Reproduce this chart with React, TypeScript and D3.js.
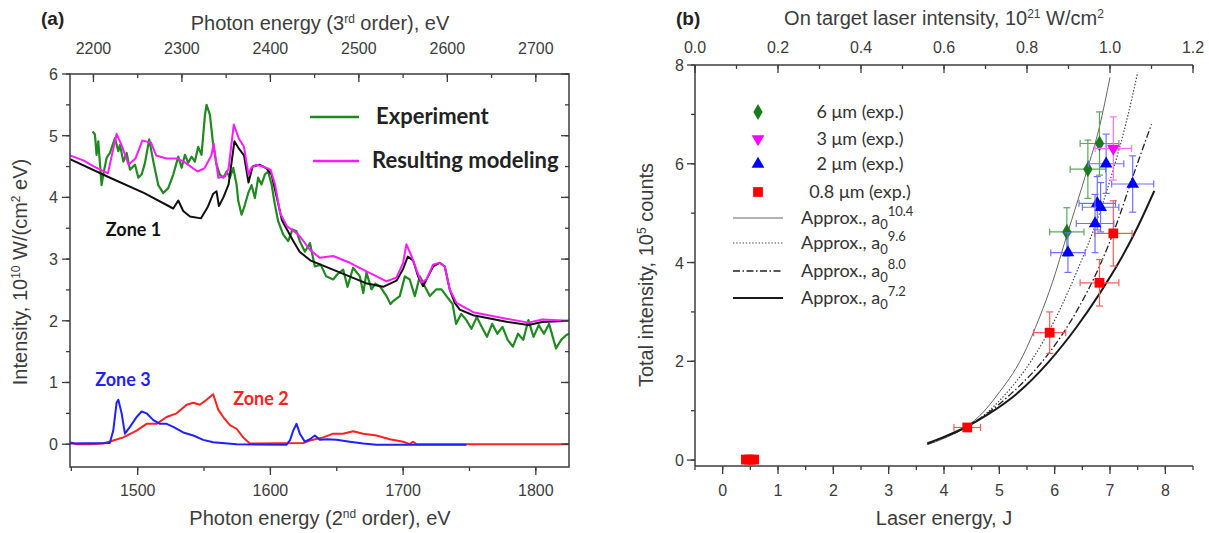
import React from "react";
import * as d3 from "d3";

const W = 1209;
const H = 533;

// ---- panel (a): spectra, [photon energy (2nd order) eV, intensity 1e10 W/(cm2 eV)]
const experiment: [number, number][] = [
  [1466, 5.07], [1467.8, 5.02], [1469, 4.69], [1470.3, 4.91], [1472.8, 4.2], [1474.1, 4.37],
  [1476.6, 4.64], [1479.1, 4.72], [1482.9, 4.96], [1485.4, 4.75], [1486.7, 4.85], [1489.2, 4.58],
  [1491.7, 4.72], [1494.2, 4.45], [1498, 4.53], [1500.5, 4.32], [1503, 4.37], [1505.5, 4.56],
  [1508.7, 4.94], [1511.8, 4.58], [1515.5, 4.2], [1519.3, 4.07], [1523, 4.15], [1526.8, 4.37],
  [1530.6, 4.66], [1533.1, 4.48], [1535.6, 4.69], [1538.1, 4.56], [1540.6, 4.66], [1543.1, 4.58],
  [1545.6, 4.82], [1548.1, 4.69], [1550.7, 5.34], [1551.9, 5.5], [1554.4, 5.34], [1556.9, 4.85],
  [1559.4, 4.53], [1561.9, 4.37], [1564.5, 4.32], [1567, 4.42], [1569.5, 4.32], [1572, 4.48],
  [1574.5, 4.21], [1575.8, 3.94], [1578.3, 3.72], [1580.8, 3.88], [1583.3, 4.07], [1585.8, 4.2],
  [1588.3, 3.99], [1590.8, 4.32], [1593.3, 4.21], [1595.8, 4.37], [1598.3, 4.42], [1600.9, 4.21],
  [1603.4, 3.88], [1605.9, 3.61], [1609.6, 3.4], [1613.4, 3.29], [1616.7, 3.48], [1619.7, 3.45],
  [1622.2, 3.29], [1626, 3.12], [1629.8, 3.26], [1633.5, 2.88], [1637.9, 2.91], [1642, 2.72],
  [1647.3, 2.67], [1650.3, 2.75], [1654.8, 2.83], [1658.1, 2.55], [1662.3, 2.86], [1667.4, 2.72],
  [1670, 2.45], [1672.4, 2.78], [1676.2, 2.51], [1679, 2.6], [1682.4, 2.56], [1687.5, 2.4],
  [1690.5, 2.27], [1692.5, 2.32], [1697.5, 2.4], [1701.3, 2.72], [1705, 2.67], [1708.8, 2.4],
  [1712.6, 2.72], [1716.3, 2.56], [1720.1, 2.4], [1725.1, 2.51], [1728.9, 2.51], [1732.7, 2.4],
  [1737.3, 2.27], [1739.9, 1.95], [1743.8, 2.11], [1747.7, 2.01], [1751.5, 1.87], [1755.5, 2.06],
  [1759.3, 1.9], [1763.2, 1.74], [1767.1, 1.95], [1771, 1.79], [1774.9, 1.9], [1778.8, 1.69],
  [1782.7, 1.58], [1786.6, 1.79], [1790.5, 1.69], [1794.4, 2.01], [1798.3, 1.74], [1802.2, 1.93],
  [1806.1, 1.79], [1810, 1.95], [1815.2, 1.55], [1819.1, 1.69], [1823, 1.77], [1825, 1.79],
];

const modeling: [number, number][] = [
  [1449, 4.68], [1459, 4.6], [1467.2, 4.5], [1477.6, 4.39], [1484.1, 5.03], [1488, 4.84],
  [1493.1, 4.53], [1498.3, 4.63], [1503.5, 4.92], [1510, 4.89], [1513.9, 4.68], [1521.7, 4.63],
  [1529.5, 4.63], [1534.7, 4.58], [1545.1, 4.42], [1550.3, 4.47], [1555.5, 4.68], [1557.3, 4.87],
  [1560.7, 4.32], [1565.9, 4.34], [1568.5, 4.47], [1572.4, 5.18], [1576.3, 4.95], [1580.1, 4.82],
  [1583.5, 4.37], [1585.3, 4.47], [1589.2, 4.53], [1594.4, 4.5], [1600.1, 4.45], [1603.5, 4.21],
  [1607.4, 3.74], [1612.6, 3.53], [1617.8, 3.45], [1622.2, 3.37], [1629.8, 3.15], [1637.3, 3.02],
  [1647.3, 3.05], [1659.9, 2.94], [1672.4, 2.8], [1680, 2.72], [1687.5, 2.64], [1695, 2.7],
  [1700, 2.94], [1702.5, 3.24], [1706.3, 3.05], [1710, 2.83], [1713.8, 2.62], [1717.6, 2.67],
  [1722.6, 2.91], [1727.6, 2.94], [1731.4, 2.88], [1735.1, 2.51], [1740.2, 2.29], [1752.8, 2.14],
  [1778.8, 2.03], [1794.4, 1.97], [1804.8, 2.02], [1825, 2.0],
];

const zone1: [number, number][] = [
  [1449, 4.62], [1480, 4.31], [1505, 4.07], [1526.8, 3.82], [1530.6, 3.95], [1534.3, 3.78],
  [1539.4, 3.69], [1547.7, 3.66], [1552.9, 3.85], [1556.9, 4.06], [1559.4, 4.1], [1561.2, 3.86],
  [1564.6, 4.0], [1568.5, 4.21], [1572.9, 4.91], [1576.3, 4.79], [1580.1, 4.68], [1583.5, 4.24],
  [1586.6, 4.5], [1591.8, 4.53], [1597, 4.47], [1600.9, 4.37], [1604.8, 4.0], [1608.7, 3.63],
  [1617, 3.3], [1622, 3.12], [1630, 2.98], [1648, 2.82], [1672, 2.61], [1685, 2.55],
  [1695, 2.65], [1700, 2.84], [1703.5, 3.04], [1707.5, 2.98], [1711.3, 2.72], [1715.1, 2.56],
  [1718.8, 2.72], [1722.6, 2.88], [1727.6, 2.94], [1731.4, 2.88], [1735.1, 2.51], [1738.9, 2.29],
  [1742.7, 2.18], [1752.8, 2.09], [1778.8, 1.98], [1794.4, 1.93], [1804.8, 1.98], [1825, 2.0],
];

const zone2: [number, number][] = [
  [1449, 0.03], [1454, 0.0], [1464, 0.0], [1474, 0.01], [1481.6, 0.06], [1489.2, 0.11],
  [1499.2, 0.22], [1506.7, 0.33], [1514.3, 0.33], [1521.8, 0.44], [1529.3, 0.5], [1536.9, 0.64],
  [1541.9, 0.67], [1546.9, 0.64], [1551.9, 0.72], [1556.9, 0.81], [1560.7, 0.56], [1564.5, 0.44],
  [1569.5, 0.31], [1574.5, 0.25], [1579.5, 0.11], [1584.5, 0.01], [1624.7, 0.02], [1629.7, 0.06],
  [1639.8, 0.11], [1647.3, 0.17], [1654.8, 0.17], [1662.4, 0.21], [1669.9, 0.17], [1679.9, 0.14],
  [1690, 0.08], [1700, 0.04], [1705, 0.0], [1707.5, 0.04], [1710, 0.0], [1825, 0.0],
];

const zone3: [number, number][] = [
  [1449, 0.01], [1479, 0.02], [1481.6, 0.22], [1484.1, 0.67], [1485.4, 0.72], [1487.9, 0.5],
  [1490.4, 0.17], [1494.2, 0.28], [1499.2, 0.44], [1503, 0.53], [1506.7, 0.5], [1511.8, 0.39],
  [1516.8, 0.33], [1521.8, 0.33], [1526.8, 0.28], [1534.3, 0.19], [1541.9, 0.14], [1549.4, 0.07],
  [1556.9, 0.03], [1574.5, 0.0], [1612, -0.01], [1614.7, 0.06], [1617.2, 0.22], [1619.7, 0.33],
  [1622.2, 0.17], [1626, 0.04], [1629.7, 0.08], [1633.5, 0.14], [1637.3, 0.07], [1642.3, 0.08],
  [1649.8, 0.07], [1659.8, 0.04], [1669.9, 0.01], [1679.9, -0.01], [1747.7, -0.01],
];

const aBottomTicks = [1500, 1600, 1700, 1800];
const aTopTicks = [2200, 2300, 2400, 2500, 2600, 2700];
const aLeftTicks = [0, 1, 2, 3, 4, 5, 6];

// ---- panel (b): [laser energy J, total intensity 1e5 counts, x error, y error]
const exp6um = [
  [6.81, 6.41, 0.35, 0.64], [6.6, 5.89, 0.32, 0.59], [6.22, 4.62, 0.31, 0.49],
];
const exp3um = [[7.06, 6.31, 0.33, 0.64]];
const exp2um = [
  [6.93, 6.0, 0.32, 0.6], [7.41, 5.59, 0.38, 0.57], [6.77, 5.2, 0.33, 0.54],
  [6.83, 5.12, 0.33, 0.5], [6.73, 4.79, 0.34, 0.59], [6.24, 4.2, 0.31, 0.4],
];
const exp08um = [
  [7.06, 4.59, 0.34, 0.66], [6.81, 3.59, 0.35, 0.47], [5.91, 2.58, 0.29, 0.42],
  [4.42, 0.66, 0.24, 0.08], [0.42, 0.01, 0, 0], [0.47, 0.01, 0, 0], [0.52, 0.01, 0, 0],
  [0.57, 0.01, 0, 0],
];

const approx104: [number, number][] = [
  [3.7, 0.31], [4.0, 0.44], [4.4, 0.67], [4.7, 0.96], [4.95, 1.3], [5.42, 2.1], [5.73, 2.9],
  [5.96, 3.6], [6.22, 4.55], [6.58, 5.85], [6.81, 6.75], [7.0, 7.75],
];
const approx96: [number, number][] = [
  [3.7, 0.32], [4.0, 0.45], [4.4, 0.67], [4.8, 0.98], [5.0, 1.2], [5.6, 2.05], [6.03, 2.9],
  [6.45, 3.95], [6.7, 4.65], [7.05, 5.85], [7.3, 6.87], [7.5, 7.85],
];
const approx80: [number, number][] = [
  [3.7, 0.33], [4.0, 0.46], [4.4, 0.67], [4.8, 0.96], [5.2, 1.33], [5.9, 2.17], [6.4, 3.02],
  [6.8, 3.9], [7.1, 4.72], [7.4, 5.7], [7.75, 6.8],
];
const approx72: [number, number][] = [
  [3.7, 0.34], [4.0, 0.47], [4.4, 0.67], [4.8, 0.93], [5.3, 1.33], [5.9, 2.0], [6.4, 2.7],
  [6.8, 3.35], [7.2, 4.08], [7.5, 4.72], [7.8, 5.45],
];

const bBottomTicks = [0, 1, 2, 3, 4, 5, 6, 7, 8];
const bTopTicks = [0, 0.2, 0.4, 0.6, 0.8, 1.0, 1.2];
const bLeftTicks = [0, 2, 4, 6, 8];

const expLegend = ["6 μm (exp.)", "3 μm (exp.)", "2 μm (exp.)", "0.8 μm (exp.)"];
const approxPowers = ["10.4", "9.6", "8.0", "7.2"];

const axisFont = "'Liberation Sans', Arial, sans-serif";
const legendFont = "Lato, 'Open Sans', sans-serif";
const ink = "#3c3c3c";

// scales
const xa = d3.scaleLinear().domain([1449, 1825]).range([70, 569]);
const xaTop = d3.scaleLinear().domain([1449 * 1.5, 1825 * 1.5]).range([70, 569]);
const ya = d3.scaleLinear().domain([-0.37, 6]).range([467, 74]);

const xb = d3.scaleLinear().domain([-0.5, 8.5]).range([695, 1193]);
const xbTop = d3.scaleLinear().domain([0, 1.2]).range([695, 1193]);
const yb = d3.scaleLinear().domain([-0.12, 8]).range([466, 65]);

const lineA = d3
  .line<[number, number]>()
  .x((d) => xa(d[0]))
  .y((d) => ya(d[1]));

const lineB = d3
  .line<[number, number]>()
  .x((d) => xb(d[0]))
  .y((d) => yb(d[1]))
  .curve(d3.curveMonotoneX);

function inDomain(vals: number[], s: d3.ScaleLinear<number, number>) {
  const [a, b] = s.domain();
  return vals.filter((v) => v >= Math.min(a, b) - 1e-9 && v <= Math.max(a, b) + 1e-9);
}

// horizontal axis ticks: len > 0 draws downward
function HTicks({ scale, vals, y, len }: { scale: any; vals: number[]; y: number; len: number }) {
  return (
    <g stroke={ink} strokeWidth={1.3}>
      {inDomain(vals, scale).map((v) => (
        <line key={v} x1={scale(v)} x2={scale(v)} y1={y} y2={y + len} />
      ))}
    </g>
  );
}
function VTicks({ scale, vals, x, len }: { scale: any; vals: number[]; x: number; len: number }) {
  return (
    <g stroke={ink} strokeWidth={1.3}>
      {inDomain(vals, scale).map((v) => (
        <line key={v} y1={scale(v)} y2={scale(v)} x1={x} x2={x + len} />
      ))}
    </g>
  );
}

const markerPath = {
  diamond: d3.symbol(d3.symbolDiamond, 75)() as string,
  triangle: d3.symbol(d3.symbolTriangle, 70)() as string,
  square: d3.symbol(d3.symbolSquare, 95)() as string,
};

function Points({
  data, fill, bar, shape, flip = false,
}: { data: number[][]; fill: string; bar: string; shape: keyof typeof markerPath; flip?: boolean }) {
  const cap = 3.5;
  return (
    <g>
      {data.map((d, i) => {
        const cx = xb(d[0]);
        const cy = yb(d[1]);
        const x0 = xb(d[0] - d[2]);
        const x1 = xb(d[0] + d[2]);
        const y0 = yb(d[1] - d[3]);
        const y1 = yb(d[1] + d[3]);
        return (
          <g key={i}>
            {d[2] > 0 && (
              <g stroke={bar} strokeWidth={1.2}>
                <line x1={x0} x2={x1} y1={cy} y2={cy} />
                <line x1={cx} x2={cx} y1={y0} y2={y1} />
                <line x1={x0} x2={x0} y1={cy - cap} y2={cy + cap} />
                <line x1={x1} x2={x1} y1={cy - cap} y2={cy + cap} />
                <line x1={cx - cap} x2={cx + cap} y1={y0} y2={y0} />
                <line x1={cx - cap} x2={cx + cap} y1={y1} y2={y1} />
              </g>
            )}
            <path
              d={markerPath[shape]}
              transform={`translate(${cx},${cy})${flip ? " rotate(180)" : ""}`}
              fill={fill}
            />
          </g>
        );
      })}
    </g>
  );
}

// text pieces: [text, isSuperscript]
function Rich({ parts, up = 7, size = 12 }: { parts: [string, boolean][]; up?: number; size?: number }) {
  let shift = 0;
  return (
    <>
      {parts.map(([t, sup], i) => {
        const target = sup ? -up : 0;
        const dy = target - shift;
        shift = target;
        return (
          <tspan key={i} dy={dy} fontSize={sup ? size : undefined}>
            {t}
          </tspan>
        );
      })}
    </>
  );
}

export default function App() {
  const aMinorX = d3.range(1450, 1826, 50);
  const aMinorTop = d3.range(2150, 2751, 50);
  const aMinorY = d3.range(0, 6.01, 0.5);
  const bMinorX = d3.range(-0.5, 8.51, 0.5);
  const bMinorTop = d3.range(0, 1.201, 0.1);
  const bMinorY = d3.range(0, 8.01, 1);

  const green = "#1f8a1f";
  const magenta = "#ff1aff";
  const legendRowsB = [112, 139, 164, 192];
  const approxRowsB = [218, 243, 271, 298];
  const approxStyles = [
    { w: 1, dash: "none", c: "#666" },
    { w: 1.2, dash: "1.4 1.8", c: "#444" },
    { w: 1.3, dash: "7 2.5 1.5 2.5", c: "#222" },
    { w: 2, dash: "none", c: "#1a1a1a" },
  ];
  const approxSeries = [approx104, approx96, approx80, approx72];

  return (
    <svg
      width={W}
      height={H}
      style={{ position: "absolute", left: 0, top: 0, background: "#fff" }}
      fontFamily={axisFont}
    >
      <defs>
        <clipPath id="clipA">
          <rect x={70} y={74} width={499} height={393} />
        </clipPath>
      </defs>

      {/* ================= panel (a) ================= */}
      <text x={41} y={25} fontSize={19} fontWeight="bold" fill="#222">(a)</text>
      <text x={320} y={30} fontSize={20} textAnchor="middle" fill={ink}>
        <Rich parts={[["Photon energy (3", false], ["rd", true], [" order), eV", false]]} />
      </text>
      <text x={320} y={525} fontSize={20} textAnchor="middle" fill={ink}>
        <Rich parts={[["Photon energy (2", false], ["nd", true], [" order), eV", false]]} />
      </text>
      <text transform="translate(27,272) rotate(-90)" fontSize={20} textAnchor="middle" fill={ink}>
        <Rich
          parts={[["Intensity, 10", false], ["10", true], [" W/(cm", false], ["2", true], [" eV)", false]]}
        />
      </text>

      <g clipPath="url(#clipA)" fill="none" strokeLinejoin="round">
        <path d={lineA(zone2) as string} stroke="#ff2020" strokeWidth={2} />
        <path d={lineA(zone3) as string} stroke="#1f1fff" strokeWidth={2} />
        <path d={lineA(experiment) as string} stroke={green} strokeWidth={2.2} />
        <path d={lineA(zone1) as string} stroke="#111" strokeWidth={2} />
        <path d={lineA(modeling) as string} stroke={magenta} strokeWidth={2} />
      </g>

      {/* frame and ticks (a) */}
      <rect x={70} y={74} width={499} height={393} fill="none" stroke={ink} strokeWidth={1.5} />
      <HTicks scale={xa} vals={aMinorX} y={467} len={4} />
      <HTicks scale={xa} vals={aBottomTicks} y={467} len={8} />
      <HTicks scale={xaTop} vals={aMinorTop} y={74} len={4} />
      <HTicks scale={xaTop} vals={aTopTicks} y={74} len={8} />
      <VTicks scale={ya} vals={aMinorY} x={70} len={-4} />
      <VTicks scale={ya} vals={aLeftTicks} x={70} len={-8} />
      <VTicks scale={ya} vals={aMinorY} x={569} len={-4} />
      <VTicks scale={ya} vals={aLeftTicks} x={569} len={-8} />

      <g fontSize={16} fill={ink}>
        {aBottomTicks.map((v) => (
          <text key={v} x={xa(v)} y={496} textAnchor="middle">{v}</text>
        ))}
        {aTopTicks.map((v) => (
          <text key={v} x={xaTop(v)} y={54} textAnchor="middle">{v}</text>
        ))}
        {aLeftTicks.map((v) => (
          <text key={v} x={58} y={ya(v) + 6} textAnchor="end">{v}</text>
        ))}
      </g>

      {/* legend (a) */}
      <g fontFamily={legendFont} fontWeight="bold" fontSize={22} fill="#222">
        <line x1={310} x2={359} y1={117} y2={117} stroke={green} strokeWidth={2.4} />
        <text x={376} y={124}>Experiment</text>
        <line x1={313} x2={359} y1={161} y2={161} stroke={magenta} strokeWidth={2.4} />
        <text x={372} y={168}>Resulting modeling</text>
      </g>
      <g fontFamily={legendFont} fontWeight="bold" fontSize={18}>
        <text x={xa(1476)} y={ya(3.38)} fill="#111">Zone 1</text>
        <text x={xa(1468)} y={ya(0.95)} fill="#1f1fff">Zone 3</text>
        <text x={xa(1572)} y={ya(0.63)} fill="#ff2020">Zone 2</text>
      </g>

      {/* ================= panel (b) ================= */}
      <text x={676} y={25} fontSize={19} fontWeight="bold" fill="#222">(b)</text>
      <text x={944} y={25} fontSize={20} textAnchor="middle" fill={ink}>
        <Rich
          parts={[["On target laser intensity, 10", false], ["21", true], [" W/cm", false], ["2", true]]}
        />
      </text>
      <text x={944} y={525} fontSize={20} textAnchor="middle" fill={ink}>Laser energy, J</text>
      <text transform="translate(653,275) rotate(-90)" fontSize={20} textAnchor="middle" fill={ink}>
        <Rich parts={[["Total intensity, 10", false], ["5", true], [" counts", false]]} />
      </text>

      <g fill="none">
        {approxSeries.map((s, i) => (
          <path
            key={i}
            d={lineB(s) as string}
            stroke={approxStyles[i].c}
            strokeWidth={approxStyles[i].w}
            strokeDasharray={approxStyles[i].dash}
          />
        ))}
      </g>

      <Points data={exp08um} fill="#ff0000" bar="#ff5a5a" shape="square" />
      <Points data={exp6um} fill="#1a7a1a" bar="#5aa85a" shape="diamond" />
      <Points data={exp2um} fill="#0000ff" bar="#7070ff" shape="triangle" />
      <Points data={exp3um} fill="#ff00ff" bar="#ff70ff" shape="triangle" flip />

      {/* axes (b) */}
      <g stroke={ink} strokeWidth={1.5}>
        <line x1={695} x2={695} y1={65} y2={466} />
        <line x1={695} x2={1193} y1={466} y2={466} />
        <line x1={695} x2={1193} y1={65} y2={65} />
      </g>
      <HTicks scale={xb} vals={bMinorX} y={466} len={4} />
      <HTicks scale={xb} vals={bBottomTicks} y={466} len={8} />
      <HTicks scale={xbTop} vals={bMinorTop} y={65} len={4} />
      <HTicks scale={xbTop} vals={bTopTicks} y={65} len={8} />
      <VTicks scale={yb} vals={bMinorY} x={695} len={-4} />
      <VTicks scale={yb} vals={bLeftTicks} x={695} len={-8} />

      <g fontSize={16} fill={ink}>
        {bBottomTicks.map((v) => (
          <text key={v} x={xb(v)} y={496} textAnchor="middle">{v}</text>
        ))}
        {bTopTicks.map((v) => (
          <text key={v} x={xbTop(v)} y={53} textAnchor="middle">{v.toFixed(1)}</text>
        ))}
        {bLeftTicks.map((v) => (
          <text key={v} x={684} y={yb(v) + 6} textAnchor="end">{v}</text>
        ))}
      </g>

      {/* legend (b) */}
      <g fontFamily={legendFont} fontSize={18} fill="#333">
        <path d={markerPath.diamond} transform={`translate(758,${legendRowsB[0]})`} fill="#1a7a1a" />
        <path d={markerPath.triangle} transform={`translate(758,${legendRowsB[1]}) rotate(180)`} fill="#ff00ff" />
        <path d={markerPath.triangle} transform={`translate(758,${legendRowsB[2]})`} fill="#0000ff" />
        <path d={markerPath.square} transform={`translate(758,${legendRowsB[3]})`} fill="#ff0000" />
        {expLegend.map((t, i) => (
          <text key={t} x={860} y={legendRowsB[i] + 6} textAnchor="middle">{t}</text>
        ))}
        {approxPowers.map((p, i) => (
          <g key={p}>
            <line
              x1={733} x2={783} y1={approxRowsB[i]} y2={approxRowsB[i]}
              stroke={approxStyles[i].c}
              strokeWidth={approxStyles[i].w}
              strokeDasharray={approxStyles[i].dash}
            />
            <text x={801} y={approxRowsB[i] + 6}>
              <tspan>Approx., a</tspan>
              <tspan dy={5} fontSize={13}>0</tspan>
              <tspan dy={-13} fontSize={13}>{p}</tspan>
            </text>
          </g>
        ))}
      </g>
    </svg>
  );
}
